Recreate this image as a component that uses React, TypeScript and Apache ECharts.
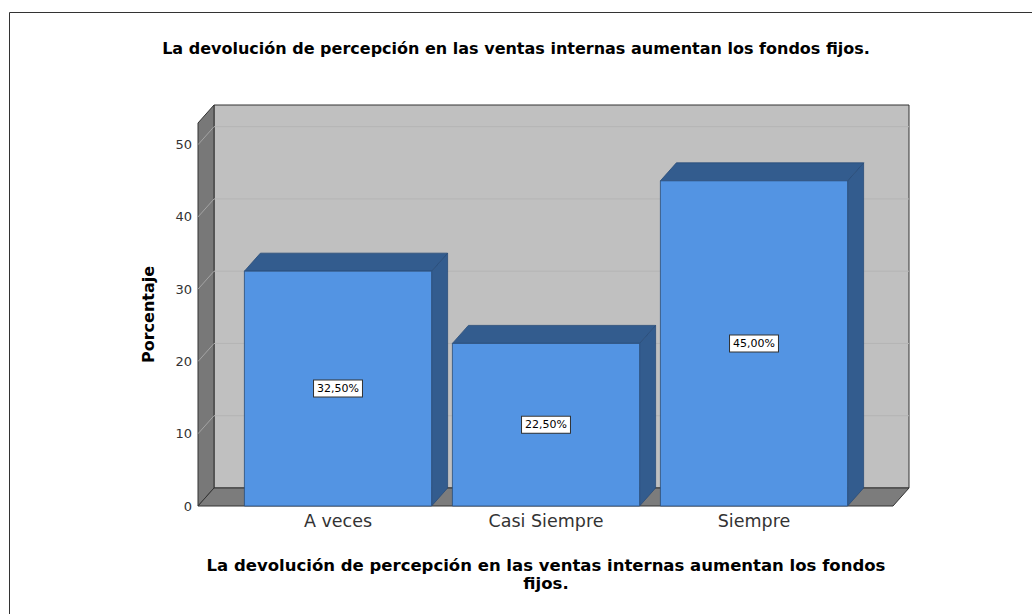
import React, { useEffect, useRef } from "react";
import * as echarts from "echarts";

const TITLE = "La devolución de percepción en las ventas internas aumentan los fondos fijos.";
const X_NAME = "La devolución de percepción en las ventas internas aumentan los fondos\nfijos.";
const Y_NAME = "Porcentaje";
const CATEGORIES = ["A veces", "Casi Siempre", "Siempre"];
const PERCENTAGES = [32.5, 22.5, 45.0];
const Y_TICKS = [0, 10, 20, 30, 40, 50];
const Y_MAX = 53;

const DX = 16;
const DY = -18;
const PAD_L = 36;
const PAD_R = 35;

const FRONT = "#5394E3";
const DARK = "#335C8E";
const EDGE_BAR = "#2A4C78";
const WALL_BACK = "#C0C0C0";
const WALL_SIDE = "#787878";
const FLOOR = "#7C7C7C";
const EDGE = "#333333";

const fmt = (v: number) => v.toFixed(2).replace(".", ",") + "%";

export default function App() {
  const ref = useRef<HTMLDivElement>(null);
  useEffect(() => {
    if (!ref.current) return;
    const chart = echarts.init(ref.current, null, { renderer: "svg" });

    const renderWalls = (params: any, api: any) => {
      const cs = params.coordSys;
      const L = cs.x - PAD_L;
      const R = cs.x + cs.width + PAD_R;
      const y0 = api.coord([0, 0])[1];
      const yTop = api.coord([0, Y_MAX])[1];
      const children: any[] = [];
      children.push({
        type: "rect",
        shape: { x: L + DX, y: yTop + DY, width: R - L, height: y0 - yTop },
        style: { fill: WALL_BACK, stroke: EDGE, lineWidth: 1 },
      });
      children.push({
        type: "polygon",
        shape: { points: [[L, yTop], [L + DX, yTop + DY], [L + DX, y0 + DY], [L, y0]] },
        style: { fill: WALL_SIDE, stroke: EDGE, lineWidth: 1 },
      });
      Y_TICKS.filter((t) => t > 0).forEach((t) => {
        const y = api.coord([0, t])[1];
        children.push({
          type: "line",
          shape: { x1: L + DX, y1: y + DY, x2: R + DX, y2: y + DY },
          style: { stroke: "#B4B4B4", lineWidth: 1 },
        });
        children.push({
          type: "line",
          shape: { x1: L, y1: y, x2: L + DX, y2: y + DY },
          style: { stroke: "#A4A4A4", lineWidth: 1 },
        });
      });
      children.push({
        type: "polygon",
        shape: { points: [[L, y0], [L + DX, y0 + DY], [R + DX, y0 + DY], [R, y0]] },
        style: { fill: FLOOR, stroke: EDGE, lineWidth: 1 },
      });
      return { type: "group", children };
    };

    const renderBars = (params: any, api: any) => {
      const idx = api.value(0);
      const v = api.value(1);
      const [cx, top] = api.coord([idx, v]);
      const y0 = api.coord([idx, 0])[1];
      const w = api.size([1, 0])[0] * 0.9;
      const xl = cx - w / 2;
      const xr = cx + w / 2;
      return {
        type: "group",
        children: [
          {
            type: "polygon",
            shape: { points: [[xr, top], [xr + DX, top + DY], [xr + DX, y0 + DY], [xr, y0]] },
            style: { fill: DARK, stroke: EDGE_BAR, lineWidth: 0.8 },
          },
          {
            type: "polygon",
            shape: { points: [[xl, top], [xl + DX, top + DY], [xr + DX, top + DY], [xr, top]] },
            style: { fill: DARK, stroke: EDGE_BAR, lineWidth: 0.8 },
          },
          {
            type: "rect",
            shape: { x: xl, y: top, width: w, height: y0 - top },
            style: { fill: FRONT, stroke: EDGE_BAR, lineWidth: 0.8 },
          },
          {
            type: "text",
            x: cx,
            y: (top + y0) / 2,
            style: {
              text: fmt(v),
              fill: "#000",
              fontSize: 11,
              fontFamily: "DejaVu Sans",
              align: "center",
              verticalAlign: "middle",
              backgroundColor: "#fff",
              borderColor: "#333",
              borderWidth: 1,
              padding: [3, 3, 2, 3],
            },
          },
        ],
      };
    };

    chart.setOption({
      animation: false,
      backgroundColor: "#fff",
      title: {
        text: TITLE,
        left: "center",
        top: 35,
        textStyle: { fontFamily: "DejaVu Sans", fontWeight: "bold", fontSize: 16, color: "#000" },
      },
      graphic: [
        {
          type: "rect",
          silent: true,
          shape: { x: 9.5, y: 12.5, width: 1100, height: 700 },
          style: { fill: "none", stroke: "#333", lineWidth: 1 },
        },
      ],
      grid: { left: 234, right: 174, top: 123, bottom: 108, containLabel: false },
      xAxis: {
        type: "category",
        data: CATEGORIES,
        axisLine: { show: false },
        axisTick: { show: false },
        axisLabel: { interval: 0, margin: 6, fontFamily: "DejaVu Sans", fontSize: 17.5, color: "#333" },
        name: X_NAME,
        nameLocation: "middle",
        nameGap: 50,
        nameTextStyle: { fontFamily: "DejaVu Sans", fontWeight: "bold", fontSize: 16.5, color: "#000", lineHeight: 18 },
      },
      yAxis: {
        type: "value",
        min: 0,
        max: Y_MAX,
        interval: 10,
        axisLine: { show: false },
        axisTick: { show: false },
        splitLine: { show: false },
        axisLabel: {
          margin: 42,
          fontFamily: "DejaVu Sans",
          fontSize: 13,
          color: "#333",
          formatter: (v: number) => (Y_TICKS.includes(v) ? String(v) : ""),
        },
        name: Y_NAME,
        nameLocation: "middle",
        nameGap: 78,
        nameTextStyle: { fontFamily: "DejaVu Sans", fontWeight: "bold", fontSize: 16, color: "#000" },
      },
      series: [
        {
          type: "custom",
          z: 1,
          silent: true,
          renderItem: renderWalls,
          data: [[0, 0]],
          encode: { x: 0, y: 1 },
        },
        {
          type: "custom",
          z: 2,
          renderItem: renderBars,
          data: PERCENTAGES.map((v, i) => [i, v]),
          encode: { x: 0, y: 1 },
        },
      ],
    });
    return () => chart.dispose();
  }, []);
  return (
    <div
      ref={ref}
      style={{ position: "fixed", left: 0, top: 0, width: 1032, height: 614, background: "#fff" }}
    />
  );
}
